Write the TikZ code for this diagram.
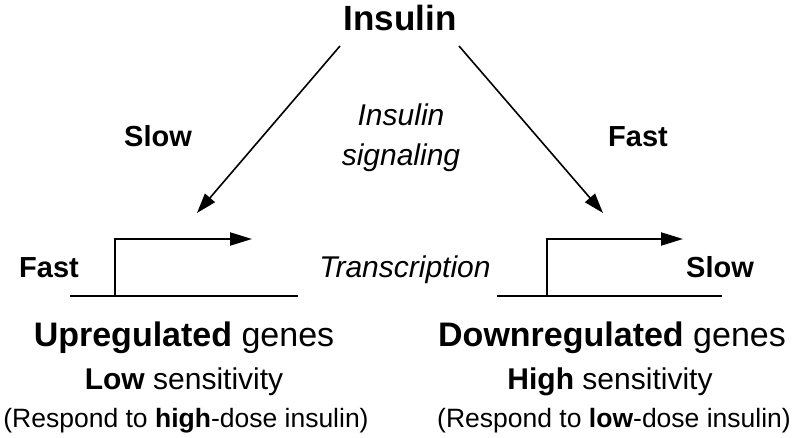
\documentclass[tikz,border=0pt]{standalone}
\usepackage{fontspec}
\setmainfont{Liberation Sans}
\usetikzlibrary{arrows.meta}
\begin{document}
\begin{tikzpicture}[x=1pt,y=-1pt,
  lbl/.style={inner sep=0pt, anchor=base},
  big/.style={lbl,font=\fontsize{35}{40}\selectfont},
  mid/.style={lbl,font=\fontsize{29}{34}\selectfont\bfseries},
  ital/.style={lbl,font=\fontsize{30}{34}\selectfont\itshape},
  gene/.style={lbl,font=\fontsize{34}{38}\selectfont},
  sens/.style={lbl,font=\fontsize{30}{34}\selectfont},
  resp/.style={lbl,font=\fontsize{26.5}{30}\selectfont},
  dna/.style={line width=2pt},
  prom/.style={line width=2pt,line join=miter,-{Triangle[length=22pt,width=13pt]}},
  sig/.style={line width=1.6pt,-{Triangle[length=20pt,width=13pt]}}]
\useasboundingbox (0,0) rectangle (800,438);
% title
\node[big,font=\fontsize{35}{40}\selectfont\bfseries] (ins) at (400,31) {Insulin};
% signaling arrows
\coordinate (la0) at (340,46);
\coordinate (la1) at (197,213);
\coordinate (ra0) at (459,46);
\coordinate (ra1) at (603,213);
\draw[sig] (la0) -- (la1);
\draw[sig] (ra0) -- (ra1);
\node[mid] (slowL) at (158,147) {Slow};
\node[mid] (fastR) at (638,147) {Fast};
\node[ital] (sig1) at (401,126) {Insulin};
\node[ital] (sig2) at (401,166) {signaling};
% left gene
\coordinate (l1) at (70,296);
\coordinate (l2) at (298,296);
\coordinate (lp) at (115,296);
\coordinate (lt) at (252,239);
\draw[dna] (l1) -- (l2);
\draw[prom] (lp) |- (lt);
% right gene
\coordinate (r1) at (497,296);
\coordinate (r2) at (722,296);
\coordinate (rp) at (547,296);
\coordinate (rt) at (683,239);
\draw[dna] (r1) -- (r2);
\draw[prom] (rp) |- (rt);
\node[mid] (fastL) at (49,277) {Fast};
\node[mid] (slowR) at (720,277) {Slow};
\node[ital] (trans) at (405,277) {Transcription};
% captions
\node[gene] (up) at (184,346) {\textbf{Upregulated} genes};
\node[sens] (low) at (184,389) {\textbf{Low} sensitivity};
\node[resp] (rl) at (186,427) {(Respond to \textbf{high}-dose insulin)};
\node[gene] (down) at (612,346) {\textbf{Downregulated} genes};
\node[sens] (high) at (610,389) {\textbf{High} sensitivity};
\node[resp] (rr) at (614,427) {(Respond to \textbf{low}-dose insulin)};
\end{tikzpicture}
\end{document}
